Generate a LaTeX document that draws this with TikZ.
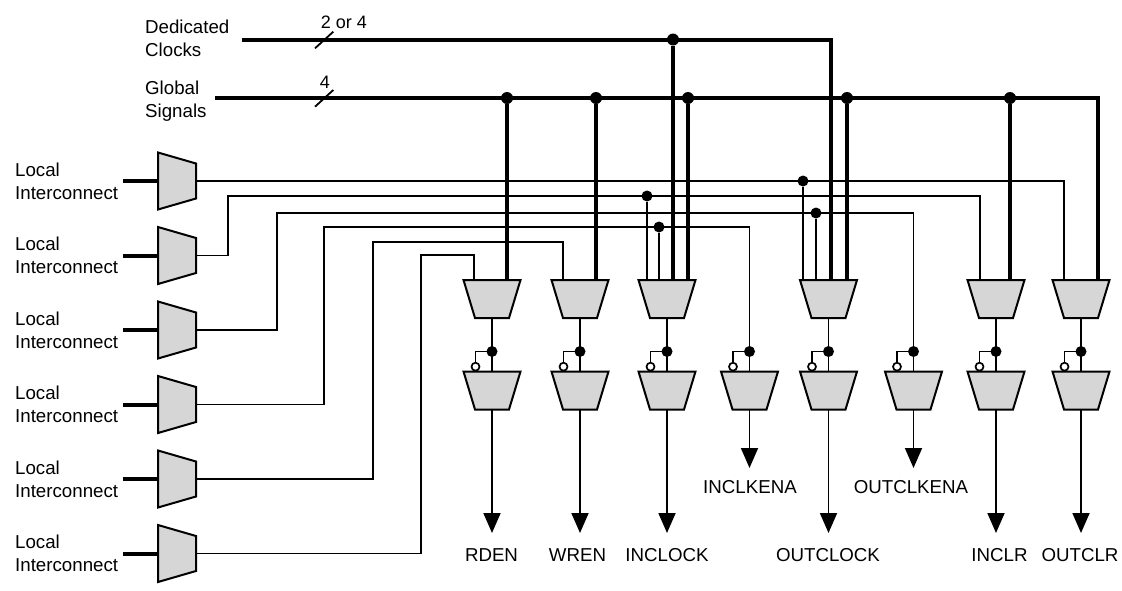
\documentclass[tikz,border=0pt]{standalone}
\usepackage{fontspec}
\setmainfont{Liberation Sans}
\usetikzlibrary{arrows.meta}
\begin{document}
\begin{tikzpicture}[x=1pt,y=-1pt,
  mux/.style={rectangle, draw=none, minimum width=57pt, minimum height=38pt, inner sep=0pt, outer sep=0pt},
  lmux/.style={rectangle, draw=none, minimum width=38pt, minimum height=57pt, inner sep=0pt, outer sep=0pt},
  muxbody/.style={draw=black, line width=2pt, fill=black!16, line join=miter},
  bus/.style={line width=4pt},
  sig/.style={line width=1.8pt},
  bdot/.style={circle, fill=black, inner sep=0pt, minimum size=12pt},
  sdot/.style={circle, fill=black, inner sep=0pt, minimum size=11pt},
  bub/.style={circle, draw, fill=white, line width=1.7pt, inner sep=0pt, minimum size=8pt},
  lbl/.style={font=\fontsize{18.7}{23}\selectfont, align=left, inner sep=0pt, anchor=west},
  olbl/.style={font=\fontsize{18.7}{23}\selectfont, inner sep=0pt, anchor=base},
  nlbl/.style={font=\fontsize{18}{20}\selectfont, inner sep=0pt, anchor=base},
  outarr/.style={sig, -{Triangle[length=20pt,width=17pt]}}
]
\useasboundingbox (0,0) rectangle (1122,590);

% ---------- coordinates ----------
\coordinate (dcS) at (242,39.5);
\coordinate (dcE) at (831,39.5);
\coordinate (gsS) at (215,98);
\coordinate (gsE) at (1098,98);
\coordinate (tipL) at (0,533);
\coordinate (tipS) at (0,468);

% ---------- left muxes (placeholders) ----------
\foreach \i/\y in {1/181,2/255.5,3/330,4/404.5,5/479,6/553.5}{
  \node[lmux] (lm\i) at (177,\y) {};
  \coordinate (in\i) at (123,\y);
  \node[lbl] (tl\i) at (15,\y) {Local\\Interconnect};
}

% ---------- row 1 muxes ----------
\node[mux] (rden1) at (492,299) {};
\node[mux] (wren1) at (580,299) {};
\node[mux] (inc1) at (667,299) {};
\node[mux] (out1) at (828.5,299) {};
\node[mux] (iclr1) at (996,299) {};
\node[mux] (oclr1) at (1081,299) {};

% ---------- row 2 muxes ----------
\node[mux] (rden2) at (492,390.5) {};
\node[mux] (wren2) at (580,390.5) {};
\node[mux] (inc2) at (667,390.5) {};
\node[mux] (ike2) at (749.5,390.5) {};
\node[mux] (out2) at (828.5,390.5) {};
\node[mux] (oke2) at (913.5,390.5) {};
\node[mux] (iclr2) at (996,390.5) {};
\node[mux] (oclr2) at (1081,390.5) {};

% ---------- bus dots ----------
\node[bdot] (dcd) at (673,39.5) {};
\node[bdot] (g1) at (507,98) {};
\node[bdot] (g2) at (596,98) {};
\node[bdot] (g3) at (688,98) {};
\node[bdot] (g4) at (847,98) {};
\node[bdot] (g5) at (1010,98) {};

% ---------- thin line corner coordinates and dots ----------
\coordinate (a1) at (1064,181);
\coordinate (b2) at (228,255.5); \coordinate (c2) at (228,196); \coordinate (a2) at (980,196);
\coordinate (b3) at (277,330); \coordinate (c3) at (277,213); \coordinate (a3) at (913.5,213);
\coordinate (b4) at (324,404.5); \coordinate (c4) at (324,227); \coordinate (a4) at (749.5,227);
\coordinate (b5) at (373,479); \coordinate (c5) at (373,242); \coordinate (a5) at (563,242);
\coordinate (b6) at (421,553.5); \coordinate (c6) at (421,255); \coordinate (a6) at (474,255);
\node[sdot] (d1) at (803,181) {};
\node[sdot] (d2) at (647,196) {};
\node[sdot] (d3) at (816,213) {};
\node[sdot] (d4) at (659,227) {};

% buses
\draw[bus] (dcS) -- (dcE) -- (dcE |- out1.north);
\draw[bus] (gsS) -- (gsE) -- (gsE |- oclr1.north);
\draw[bus] (dcd) -- (dcd |- inc1.north);
\draw[bus] (g1) -- (g1 |- rden1.north);
\draw[bus] (g2) -- (g2 |- wren1.north);
\draw[bus] (g3) -- (g3 |- inc1.north);
\draw[bus] (g4) -- (g4 |- out1.north);
\draw[bus] (g5) -- (g5 |- iclr1.north);
\foreach \i in {1,...,6}{ \draw[bus] (in\i) -- (lm\i.west); }

% slashes and widths
\coordinate (s1a) at (315,48.3); \coordinate (s1b) at (333.3,31.7);
\coordinate (s2a) at (315,106.7); \coordinate (s2b) at (333.3,90);
\draw[sig] (s1a) -- (s1b);
\draw[sig] (s2a) -- (s2b);
\node[nlbl] (w1) at (344,28.3) {2 or 4};
\node[nlbl] (w2) at (325,88.3) {4};

% thin signal lines
\draw[sig] (lm1.east) -- (a1) -- (a1 |- oclr1.north);
\draw[sig] (lm2.east) -- (b2) -- (c2) -- (a2) -- (a2 |- iclr1.north);
\draw[sig] (lm3.east) -- (b3) -- (c3) -- (a3) -- (a3 |- oke2.north);
\draw[sig] (lm4.east) -- (b4) -- (c4) -- (a4) -- (a4 |- ike2.north);
\draw[sig] (lm5.east) -- (b5) -- (c5) -- (a5) -- (a5 |- wren1.north);
\draw[sig] (lm6.east) -- (b6) -- (c6) -- (a6) -- (a6 |- rden1.north);
\draw[sig] (d1) -- (d1 |- out1.north);
\draw[sig] (d2) -- (d2 |- inc1.north);
\draw[sig] (d3) -- (d3 |- out1.north);
\draw[sig] (d4) -- (d4 |- inc1.north);

% row1 -> row2
\foreach \m in {rden,wren,inc,out,iclr,oclr}{
  \draw[sig] (\m1.south) -- (\m2.north);
}

% outputs
\foreach \m in {rden,wren,inc,out,iclr,oclr}{
  \draw[outarr] (\m2.south) -- (\m2.south |- tipL);
}
\draw[outarr] (ike2.south) -- (ike2.south |- tipS);
\draw[outarr] (oke2.south) -- (oke2.south |- tipS);

% left mux bodies (wide side left, narrow side right)
\foreach \i in {1,...,6}{
  \draw[muxbody] (lm\i.north west) -- ([yshift=-11pt]lm\i.north east)
     -- ([yshift=11pt]lm\i.south east) -- (lm\i.south west) -- cycle;
}
% row mux bodies (wide top, narrow bottom)
\foreach \m in {rden1,wren1,inc1,out1,iclr1,oclr1,rden2,wren2,inc2,ike2,out2,oke2,iclr2,oclr2}{
  \draw[muxbody] (\m.north west) -- (\m.north east)
     -- ([xshift=-11.5pt]\m.south east) -- ([xshift=11.5pt]\m.south west) -- cycle;
}

% inverter branches into row 2
\foreach \m in {rden,wren,inc,ike,out,oke,iclr,oclr}{
  \node[sdot] (\m J) at ([yshift=20pt]\m2.north) {};
  \coordinate (\m K) at ([xshift=-16.5pt,yshift=20pt]\m2.north);
  \node[bub] (\m B) at ([xshift=-16.5pt,yshift=4.8pt]\m2.north) {};
  \draw[sig] (\m J.center) -- (\m K) -- (\m B.north);
}

% output labels
\node[olbl] (lrden) at (491.5,561) {RDEN};
\node[olbl] (lwren) at (577.5,561) {WREN};
\node[olbl] (linc) at (667,561) {INCLOCK};
\node[olbl] (lout) at (828,561) {OUTCLOCK};
\node[olbl] (liclr) at (999.5,561) {INCLR};
\node[olbl] (loclr) at (1080,561) {OUTCLR};
\node[olbl] (like) at (750,493) {INCLKENA};
\node[olbl] (loke) at (911,493) {OUTCLKENA};

% top labels
\node[lbl] (tdc) at (145,38) {Dedicated\\Clocks};
\node[lbl] (tgs) at (145,101.6) {Global\\Signals};
\end{tikzpicture}
\end{document}
